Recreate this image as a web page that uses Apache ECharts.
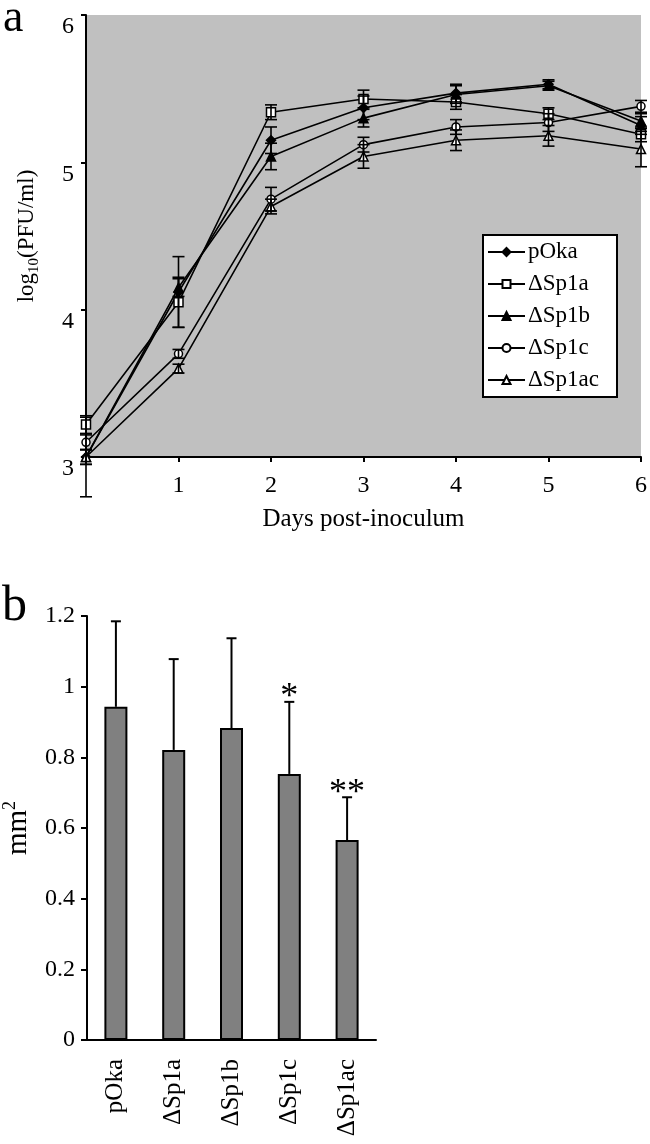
<!DOCTYPE html>
<html>
<head>
<meta charset="utf-8">
<script src="https://cdn.jsdelivr.net/npm/echarts@6/dist/echarts.min.js"></script>
<style>
html,body{margin:0;padding:0;background:#fff;}
#chart{width:650px;height:1144px;}
</style>
</head>
<body>
<div id="chart"></div>
<script>
// ---------- Panel a: growth curves ----------
const days = [0, 1, 2, 3, 4, 5, 6];
const dayTickLabels = ['', '1', '2', '3', '4', '5', '6'];
const lineNames = ['pOka', 'ΔSp1a', 'ΔSp1b', 'ΔSp1c', 'ΔSp1ac'];
const pOkaVals   = [3.00, 4.12, 5.15, 5.37, 5.47, 5.53, 5.25];
const sp1aVals   = [3.22, 4.05, 5.34, 5.43, 5.41, 5.33, 5.19];
const sp1bVals   = [3.00, 4.15, 5.04, 5.30, 5.46, 5.52, 5.28];
const sp1cVals   = [3.10, 3.70, 4.75, 5.12, 5.24, 5.27, 5.38];
const sp1acVals  = [3.00, 3.60, 4.70, 5.04, 5.15, 5.18, 5.09];
const pOkaErr    = [0.27, 0.24, 0.09, 0.08, 0.06, 0.03, 0.06];
const sp1aErr    = [0.06, 0.17, 0.05, 0.06, 0.05, 0.04, 0.05];
const sp1bErr    = [0.05, 0.06, 0.09, 0.06, 0.06, 0.03, 0.05];
const sp1cErr    = [0.05, 0.03, 0.08, 0.05, 0.05, 0.06, 0.04];
const sp1acErr   = [0.05, 0.03, 0.05, 0.08, 0.07, 0.07, 0.12];

// ---------- Panel b: plaque sizes ----------
const barCategories = ['pOka', 'ΔSp1a', 'ΔSp1b', 'ΔSp1c', 'ΔSp1ac'];
const barValues = [0.943, 0.821, 0.883, 0.753, 0.566];
const barErrors = [0.242, 0.257, 0.254, 0.204, 0.121];
const barSignif = ['', '', '', '*', '**'];

const FONT = '"Liberation Serif", "DejaVu Serif", serif';
const lineVals = [pOkaVals, sp1aVals, sp1bVals, sp1cVals, sp1acVals];
const lineErrs = [pOkaErr, sp1aErr, sp1bErr, sp1cErr, sp1acErr];
const symbols = ['diamond', 'rect', 'triangle', 'circle', 'triangle'];
const symbolSizes = [9, 9, 9, 8, 9];
const fills = ['#000', '#fff', '#000', '#fff', '#fff'];

const lineSeries = lineNames.map((name, i) => ({
  name: name,
  type: 'line',
  xAxisIndex: 0, yAxisIndex: 0,
  data: days.map((d, j) => [d, lineVals[i][j]]),
  symbol: symbols[i],
  symbolSize: symbolSizes[i],
  showAllSymbol: true,
  clip: false,
  lineStyle: { color: '#000', width: 1.6 },
  itemStyle: { color: fills[i], borderColor: '#000', borderWidth: 1.5 },
  z: 3
}));

const errData = [];
lineNames.forEach((n, i) => days.forEach((d, j) => errData.push([d, lineVals[i][j], lineErrs[i][j]])));

function errorBarItem(params, api) {
  const x = api.value(0), y = api.value(1), e = api.value(2);
  const hi = api.coord([x, y + e]);
  const lo = api.coord([x, y - e]);
  const c = 6;
  const st = { stroke: '#000', lineWidth: 1.6 };
  return { type: 'group', children: [
    { type: 'line', shape: { x1: hi[0], y1: hi[1], x2: lo[0], y2: lo[1] }, style: st },
    { type: 'line', shape: { x1: hi[0] - c, y1: hi[1], x2: hi[0] + c, y2: hi[1] }, style: st },
    { type: 'line', shape: { x1: lo[0] - c, y1: lo[1], x2: lo[0] + c, y2: lo[1] }, style: st }
  ]};
}

const barErrData = barCategories.map((c, i) => [i, barValues[i], barErrors[i]]);
function barErrorItem(params, api) {
  const i = api.value(0), v = api.value(1), e = api.value(2);
  const top = api.coord([i, v + e]);
  const base = api.coord([i, v]);
  const c = 5;
  const st = { stroke: '#000', lineWidth: 2 };
  const sig = barSignif[params.dataIndex];
  const children = [
    { type: 'line', shape: { x1: base[0], y1: base[1], x2: top[0], y2: top[1] }, style: st },
    { type: 'line', shape: { x1: top[0] - c, y1: top[1], x2: top[0] + c, y2: top[1] }, style: st }
  ];
  if (sig) {
    children.push({ type: 'text', x: top[0], y: top[1] + 14,
      style: { text: sig, fill: '#000', font: '36px ' + FONT, align: 'center', verticalAlign: 'bottom' } });
  }
  return { type: 'group', children: children };
}

const chart = echarts.init(document.getElementById('chart'), null, { renderer: 'canvas' });
chart.setOption({
  backgroundColor: '#fff',
  animation: false,
  textStyle: { fontFamily: FONT, color: '#000' },
  graphic: [
    { type: 'text', left: 3, top: -4, style: { text: 'a', font: '46px ' + FONT, fill: '#000' } },
    { type: 'text', left: 2, top: 582, style: { text: 'b', font: '50px ' + FONT, fill: '#000' } }
  ],
  legend: {
    data: lineNames,
    orient: 'vertical',
    left: 483, top: 235,
    backgroundColor: '#fff',
    borderColor: '#000',
    borderWidth: 2,
    borderRadius: 0,
    padding: [5, 18, 5, 4],
    itemWidth: 37, itemHeight: 10, itemGap: 8,
    textStyle: { fontFamily: FONT, fontSize: 23, lineHeight: 24, color: '#000', padding: [0, 0, 0, -2] }
  },
  grid: [
    { left: 86, right: 8, top: 15, height: 442, show: true, backgroundColor: '#c0c0c0', borderWidth: 0 },
    { left: 87, width: 289, top: 616, height: 424 }
  ],
  xAxis: [
    { type: 'value', gridIndex: 0, min: 0, max: 6, interval: 1,
      axisLine: { lineStyle: { color: '#000', width: 2 } },
      axisTick: { length: 5, lineStyle: { color: '#000', width: 2 } },
      axisLabel: { fontSize: 24, color: '#000', margin: 17, fontFamily: FONT,
        formatter: v => dayTickLabels[v] },
      splitLine: { show: false },
      name: 'Days post-inoculum', nameLocation: 'middle', nameGap: 50,
      nameTextStyle: { fontSize: 25, color: '#000', fontFamily: FONT } },
    { type: 'category', gridIndex: 1, data: barCategories,
      axisLine: { lineStyle: { color: '#000', width: 2 } },
      axisTick: { length: 8, lineStyle: { color: '#000', width: 2 } },
      axisLabel: { rotate: 90, fontSize: 25, color: '#000', margin: 19, fontFamily: FONT },
      splitLine: { show: false } }
  ],
  yAxis: [
    { type: 'value', gridIndex: 0, min: 3, max: 6, interval: 1,
      axisLine: { show: true, lineStyle: { color: '#000', width: 2 } },
      axisTick: { show: true, length: 5, lineStyle: { color: '#000', width: 2 } },
      axisLabel: { fontSize: 24, lineHeight: 24, color: '#000', margin: 12, fontFamily: FONT, verticalAlign: 'top' },
      splitLine: { show: false },
      name: '{a|log}{s|10}{a|(PFU/ml)}', nameLocation: 'middle', nameGap: 44, nameRotate: 90,
      nameTextStyle: { fontFamily: FONT, color: '#000',
        rich: { a: { fontSize: 23, fontFamily: FONT, lineHeight: 30, verticalAlign: 'middle' },
                s: { fontSize: 15, fontFamily: FONT, lineHeight: 30, verticalAlign: 'bottom' } } } },
    { type: 'value', gridIndex: 1, min: 0, max: 1.2, interval: 0.2,
      axisLine: { show: true, lineStyle: { color: '#000', width: 2 } },
      axisTick: { show: true, length: 6, lineStyle: { color: '#000', width: 2 } },
      axisLabel: { fontSize: 24, color: '#000', margin: 12, fontFamily: FONT,
        formatter: v => String(Math.round(v * 10) / 10) },
      splitLine: { show: false },
      name: '{a|mm}{s|2}', nameLocation: 'middle', nameGap: 52, nameRotate: 90,
      nameTextStyle: { fontFamily: FONT, color: '#000',
        rich: { a: { fontSize: 29, fontFamily: FONT, lineHeight: 34, verticalAlign: 'middle' },
                s: { fontSize: 18, fontFamily: FONT, lineHeight: 34, verticalAlign: 'top' } } } }
  ],
  series: [
    ...lineSeries,
    { type: 'custom', name: 'errA', xAxisIndex: 0, yAxisIndex: 0, data: errData,
      renderItem: errorBarItem, clip: false, z: 4, silent: true },
    { type: 'bar', name: 'area', xAxisIndex: 1, yAxisIndex: 1, data: barValues,
      barWidth: 23,
      itemStyle: { color: '#808080', borderColor: '#000', borderWidth: 2 } },
    { type: 'custom', name: 'errB', xAxisIndex: 1, yAxisIndex: 1, data: barErrData,
      renderItem: barErrorItem, clip: false, z: 4, silent: true }
  ]
});
</script>
</body>
</html>
